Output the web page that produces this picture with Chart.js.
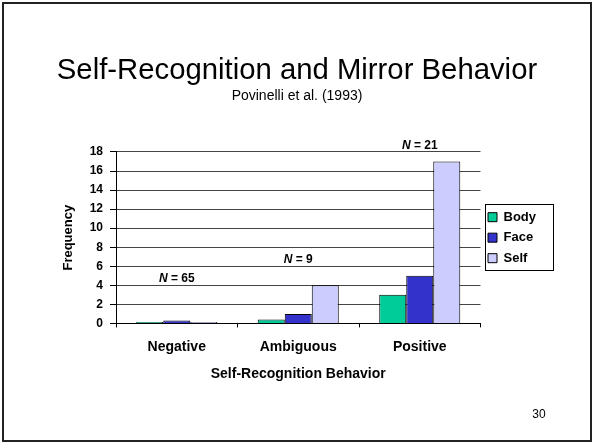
<!DOCTYPE html>
<html>
<head>
<meta charset="utf-8">
<script src="https://cdn.jsdelivr.net/npm/chart.js@4.4.1/dist/chart.umd.min.js"></script>
<style>
  html, body { margin: 0; padding: 0; background: #fff; }
  #wrap { width: 594px; height: 444px; position: relative; }
</style>
</head>
<body>
<div id="wrap"><canvas id="chart"></canvas></div>
<script>
const categories = ["Negative", "Ambiguous", "Positive"];
const bodyValues = [0.15, 0.4, 3];
const faceValues = [0.3, 1, 5];
const selfValues = [0.15, 4, 17];
const groupSizes = [65, 9, 21];
const groupLabelLevels = [4.7, 6.7, 18.7];
const yMin = 0;
const yMax = 18;
const yStep = 2;

const FONT = "'Liberation Sans', Arial, sans-serif";

const slideDecor = {
    id: "slideDecor",
    beforeDraw(chart) {
        const ctx = chart.ctx;
        ctx.save();
        ctx.fillStyle = "#fff";
        ctx.fillRect(0, 0, chart.width, chart.height);
        ctx.restore();
    },
    afterDraw(chart) {
        const ctx = chart.ctx;
        ctx.save();
        // slide frame
        ctx.strokeStyle = "#222";
        ctx.lineWidth = 2;
        ctx.strokeRect(3, 3, 588, 438);
        // page number
        ctx.fillStyle = "#000";
        ctx.font = "12px " + FONT;
        ctx.textAlign = "center";
        ctx.textBaseline = "middle";
        ctx.fillText("30", 539, 415);
        // legend border
        const boxes = chart.legend.legendHitBoxes;
        if (boxes && boxes.length) {
            let l = Infinity, t = Infinity, r = -Infinity, b = -Infinity;
            boxes.forEach((h) => {
                l = Math.min(l, h.left);
                t = Math.min(t, h.top);
                r = Math.max(r, h.left + h.width);
                b = Math.max(b, h.top + h.height);
            });
            ctx.strokeStyle = "#000";
            ctx.lineWidth = 1;
            ctx.strokeRect(Math.round(l - 3) + 0.5, Math.round(t - 7) + 0.5,
                Math.round(r - l + 20), Math.round(b - t + 12));
        }
        ctx.restore();
    },
    afterDatasetsDraw(chart) {
        const ctx = chart.ctx;
        const xs = chart.scales.x;
        const ys = chart.scales.y;
        ctx.save();
        ctx.fillStyle = "#000";
        ctx.textBaseline = "middle";
        ctx.textAlign = "left";
        groupSizes.forEach((n, i) => {
            const x = xs.getPixelForValue(i);
            const y = ys.getPixelForValue(groupLabelLevels[i]);
            const head = "N";
            const tail = " = " + n;
            ctx.font = "italic bold 12px " + FONT;
            const w1 = ctx.measureText(head).width;
            ctx.font = "bold 12px " + FONT;
            const w2 = ctx.measureText(tail).width;
            const x0 = x - (w1 + w2) / 2;
            ctx.font = "italic bold 12px " + FONT;
            ctx.fillText(head, x0, y);
            ctx.font = "bold 12px " + FONT;
            ctx.fillText(tail, x0 + w1, y);
        });
        ctx.restore();
    }
};

new Chart(document.getElementById("chart").getContext("2d"), {
    type: "bar",
    data: {
        labels: categories,
        datasets: [
            { label: "Body", data: bodyValues, backgroundColor: "#00CC99", borderColor: "#000", borderWidth: 1 },
            { label: "Face", data: faceValues, backgroundColor: "#3333CC", borderColor: "#000", borderWidth: 1 },
            { label: "Self", data: selfValues, backgroundColor: "#CCCCFF", borderColor: "#000", borderWidth: 1 }
        ]
    },
    options: {
        responsive: true,
        maintainAspectRatio: false,
        animation: false,
        devicePixelRatio: 1,
        categoryPercentage: 0.667,
        barPercentage: 1,
        layout: {
            padding: { top: 6, left: 48, right: 48, bottom: 61 }
        },
        plugins: {
            tooltip: { enabled: false },
            title: {
                display: true,
                text: "Self-Recognition and Mirror Behavior",
                color: "#000",
                font: { family: FONT, size: 29.3, weight: "normal" },
                padding: { top: 47, bottom: 0 }
            },
            subtitle: {
                display: true,
                text: "Povinelli et al. (1993)",
                color: "#000",
                font: { family: FONT, size: 14, weight: "normal" },
                padding: { top: 0, bottom: 47 }
            },
            legend: {
                position: "right",
                fullSize: false,
                labels: {
                    color: "#000",
                    boxWidth: 9,
                    boxHeight: 9,
                    padding: 7.5,
                    font: { family: FONT, size: 13, weight: "bold" }
                }
            }
        },
        scales: {
            x: {
                grid: {
                    display: true,
                    drawOnChartArea: false,
                    offset: true,
                    tickLength: 4,
                    color: "#000"
                },
                border: { color: "#000", width: 1 },
                ticks: {
                    color: "#000",
                    padding: 11,
                    font: { family: FONT, size: 14, weight: "bold" }
                },
                title: {
                    display: true,
                    text: "Self-Recognition Behavior",
                    color: "#000",
                    font: { family: FONT, size: 14, weight: "bold" },
                    padding: { top: 0, bottom: 0 }
                }
            },
            y: {
                min: yMin,
                max: yMax,
                afterFit(scale) {
                    scale.width = 68;
                },
                grid: {
                    color: "#444",
                    tickColor: "#000",
                    tickLength: 6
                },
                border: { color: "#000", width: 1 },
                ticks: {
                    stepSize: yStep,
                    color: "#000",
                    padding: 7,
                    font: { family: FONT, size: 12, weight: "bold" }
                },
                title: {
                    display: true,
                    text: "Frequency",
                    color: "#000",
                    font: { family: FONT, size: 13, weight: "bold" },
                    padding: { top: 13, bottom: 0 }
                }
            }
        }
    },
    plugins: [slideDecor]
});
</script>
</body>
</html>
